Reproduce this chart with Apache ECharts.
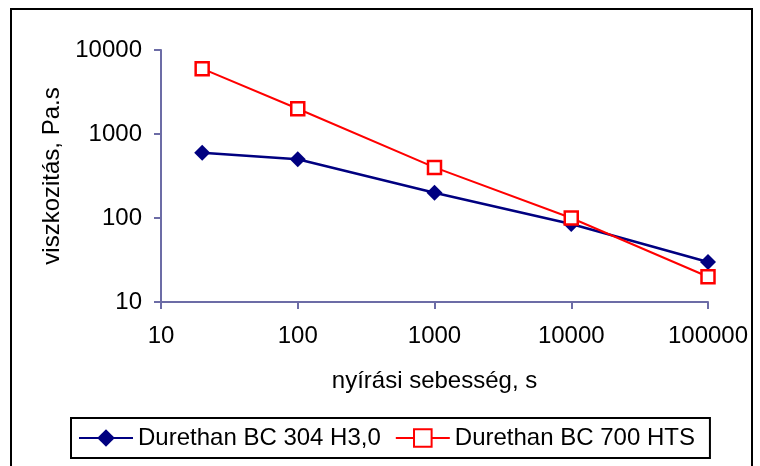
<!DOCTYPE html>
<html>
<head>
<meta charset="utf-8">
<script src="https://cdn.jsdelivr.net/npm/echarts@6/dist/echarts.min.js"></script>
<style>
  html, body { margin: 0; padding: 0; background: #fff; }
  #chart { width: 760px; height: 466px; }
</style>
</head>
<body>
<div id="chart"></div>
<script>
// nyírási sebesség (1/s)
var shearRates = [20, 100, 1000, 10000, 100000];
// viszkozitás, Pa.s
var bc304 = [600, 500, 200, 85, 30];
var bc700 = [6000, 2000, 400, 100, 20];
var seriesNames = ['Durethan BC 304 H3,0', 'Durethan BC 700 HTS'];

function pairs(ys) {
    return shearRates.map(function (x, i) { return [x, ys[i]]; });
}

var font = '"Liberation Sans", Arial, sans-serif';
var axisColor = '#6c6ca6';
var plain = function (v) { return String(Math.round(v)); };

var chart = echarts.init(document.getElementById('chart'), null, { renderer: 'canvas' });
var option = {
    animation: false,
    backgroundColor: '#fff',
    textStyle: { fontFamily: font, color: '#000' },
    graphic: [{
        type: 'rect',
        shape: { x: 11, y: 9, width: 741, height: 470 },
        style: { fill: 'none', stroke: '#000', lineWidth: 2 },
        z: -1
    }],
    grid: { left: 161, right: 52, top: 50, bottom: 164 },
    legend: {
        left: 71,
        top: 418,
        padding: [8, 15, 8, 7],
        itemGap: 14,
        itemWidth: 54,
        itemHeight: 22,
        borderColor: '#000',
        borderWidth: 2,
        textStyle: { fontFamily: font, fontSize: 24, color: '#000' },
        data: seriesNames
    },
    xAxis: {
        type: 'log',
        logBase: 10,
        min: 10,
        max: 100000,
        name: 'nyírási sebesség, s',
        nameLocation: 'middle',
        nameGap: 67,
        nameTextStyle: { fontFamily: font, fontSize: 24, color: '#000' },
        axisLine: { lineStyle: { color: axisColor, width: 2 } },
        axisTick: { inside: false, length: 7, lineStyle: { color: axisColor, width: 2 } },
        axisLabel: { margin: 22, fontSize: 24, color: '#000', fontFamily: font, formatter: plain },
        splitLine: { show: false },
        minorTick: { show: false }
    },
    yAxis: {
        type: 'log',
        logBase: 10,
        min: 10,
        max: 10000,
        name: 'viszkozitás, Pa.s',
        nameLocation: 'middle',
        nameGap: 93,
        nameTextStyle: { fontFamily: font, fontSize: 24, color: '#000' },
        axisLine: { show: true, lineStyle: { color: axisColor, width: 2 } },
        axisTick: { show: true, inside: false, length: 7, lineStyle: { color: axisColor, width: 2 } },
        axisLabel: { margin: 19, fontSize: 24, color: '#000', fontFamily: font, formatter: plain },
        splitLine: { show: false }
    },
    series: [
        {
            name: seriesNames[0],
            type: 'line',
            data: pairs(bc304),
            symbol: 'diamond',
            symbolSize: 16,
            color: '#000080',
            lineStyle: { color: '#000080', width: 2.5 },
            itemStyle: { color: '#000080', borderWidth: 0 },
            z: 2
        },
        {
            name: seriesNames[1],
            type: 'line',
            data: pairs(bc700),
            symbol: 'rect',
            symbolSize: 13,
            color: '#ff0000',
            lineStyle: { color: '#ff0000', width: 2 },
            itemStyle: { color: '#ffffff', borderColor: '#ff0000', borderWidth: 2.5 },
            z: 3
        }
    ]
};
chart.setOption(option);
</script>
</body>
</html>
